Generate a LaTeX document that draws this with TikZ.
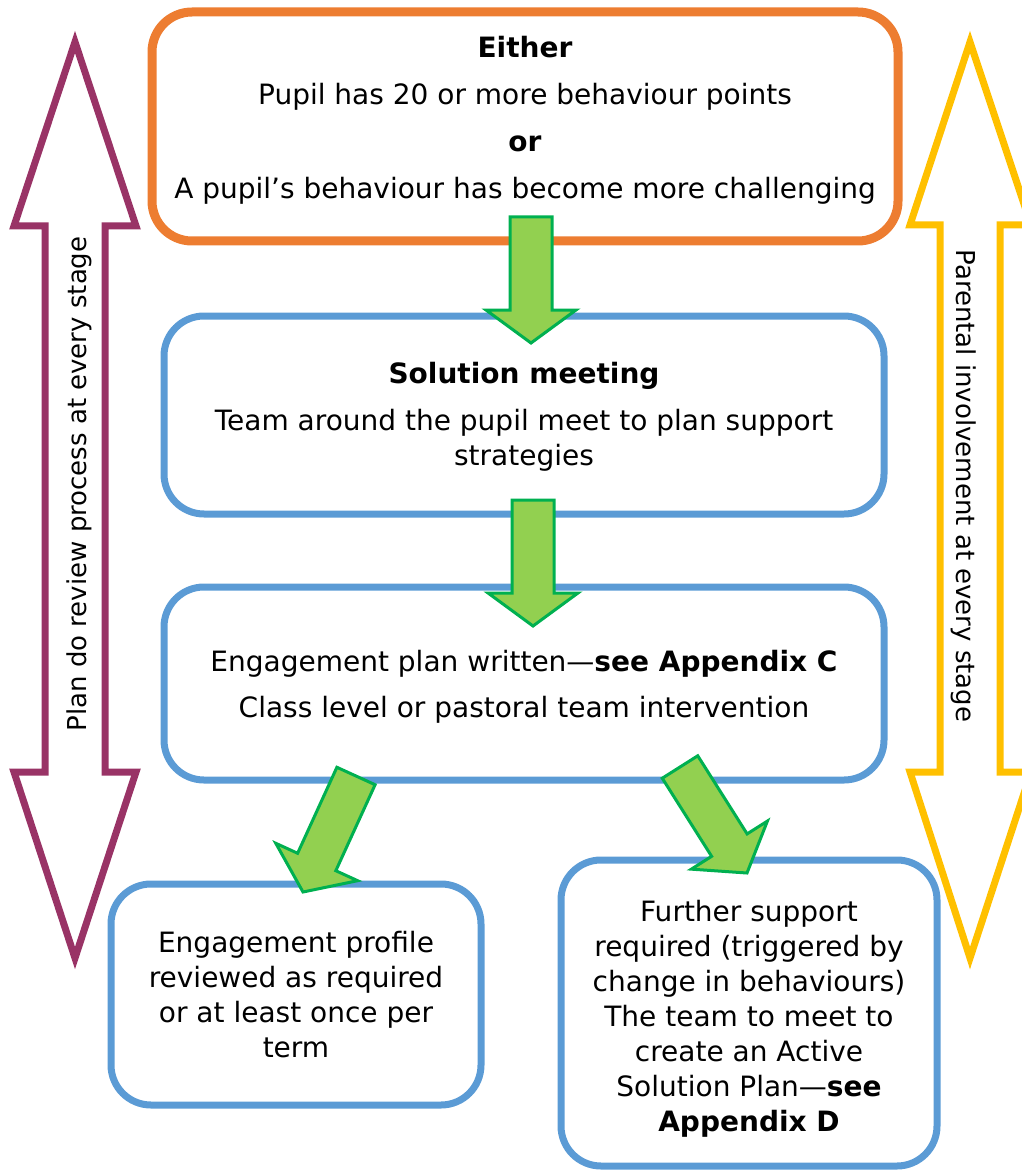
\documentclass[tikz,border=0pt]{standalone}
\usepackage{fontspec}
\setmainfont{DejaVu Sans}
\usepackage[HTML]{xcolor}
\usepackage{tikz}
\usetikzlibrary{positioning, calc}

\definecolor{trigorange}{HTML}{ED7D31}
\definecolor{stageblue}{HTML}{5B9BD5}
\definecolor{arrowgreen}{HTML}{92D050}
\definecolor{arrowedge}{HTML}{00B050}
\definecolor{reviewpurple}{HTML}{993366}
\definecolor{parentyellow}{HTML}{FFC000}

\newcommand{\boxfont}{\fontsize{28}{35}\selectfont}
\newcommand{\sidefont}{\fontsize{26}{30}\selectfont}

% lines of a box, lifted by #1 without changing the box
\newcommand{\liftlines}[2]{%
  \raisebox{#1}[\height][\depth]{\begin{tabular}{@{}c@{}}#2\end{tabular}}}

% green block arrow from #1 to #2
\newcommand{\blockarrow}[2]{%
  \coordinate (#1-h) at ($(#2)!33pt!(#1)$);
  \draw[greenarrow] ($(#1)!21pt!90:(#2)$) -- ($(#1-h)!21pt!90:(#2)$)
    -- ($(#1-h)!45pt!90:(#2)$) -- (#2) -- ($(#1-h)!45pt!-90:(#2)$)
    -- ($(#1-h)!21pt!-90:(#2)$) -- ($(#1)!21pt!-90:(#2)$) -- cycle;
}

\tikzset{
  stage/.style={draw=stageblue, line width=7pt, rounded corners=40pt,
    align=center, inner sep=0pt, font=\boxfont},
  greenarrow/.style={fill=arrowgreen, draw=arrowedge, line width=3pt, line join=miter},
  sidearrow/.style={line width=7pt, line join=miter}
}

\begin{document}
\begin{tikzpicture}[x=1pt, y=-1pt]
\useasboundingbox (0,0) rectangle (1021,1174);

% side arrows
\draw[sidearrow, draw=reviewpurple] (75,42) -- (136,226) -- (105,226) -- (105,772)
  -- (136,772) -- (75,958) -- (14,772) -- (45,772) -- (45,226) -- (14,226) -- cycle;
\draw[sidearrow, draw=parentyellow] (970,42) -- (1031,225) -- (1000,225) -- (1000,772)
  -- (1031,772) -- (970,958) -- (910,772) -- (940,772) -- (940,225) -- (910,225) -- cycle;

\node[rotate=90, font=\sidefont, inner sep=0pt] (plando) at (79,484)
  {Plan do review process at every stage};
\node[rotate=-90, font=\sidefont, inner sep=0pt] (parents) at (964,486)
  {Parental involvement at every stage};

% boxes
\node[stage, draw=trigorange, line width=9pt, minimum width=746pt, minimum height=229pt]
  (trigger) at (525,126.5)
  {\liftlines{5pt}{\textbf{Either}\\[12pt] Pupil has 20 or more behaviour points\\[12pt]
   \textbf{or}\\[12pt] A pupil’s behaviour has become more challenging}};
\node[stage, minimum width=720pt, minimum height=198pt] (meeting) at (524,415)
  {\liftlines{-2pt}{\textbf{Solution meeting}\\[12pt] Team around the pupil meet to plan support\\ strategies}};
\node[stage, minimum width=720pt, minimum height=193pt] (plan) at (524,683.5)
  {\liftlines{-4pt}{Engagement plan written—\textbf{see Appendix C}\\[11pt]
   Class level or pastoral team intervention}};
\node[stage, minimum width=370pt, minimum height=221pt] (review) at (296,994.5)
  {Engagement profile\\ reviewed as required\\ or at least once per\\ term};
\node[stage, minimum width=376pt, minimum height=306pt] (further) at (749,1013)
  {\liftlines{-6pt}{Further support\\ required (triggered by\\ change in behaviours)\\ The team to meet to\\
   create an Active\\ Solution Plan—\textbf{see}\\ \textbf{Appendix D}}};

% green arrows
\coordinate (a1) at (531,217);  \coordinate (b1) at (531,343);
\coordinate (a2) at (533,500);  \coordinate (b2) at (533,626);
\coordinate (a3) at (356,776);  \coordinate (b3) at (303,892);
\coordinate (a4) at (680,767);  \coordinate (b4) at (747,873);
\blockarrow{a1}{b1}
\blockarrow{a2}{b2}
\blockarrow{a3}{b3}
\blockarrow{a4}{b4}
\end{tikzpicture}
\end{document}
